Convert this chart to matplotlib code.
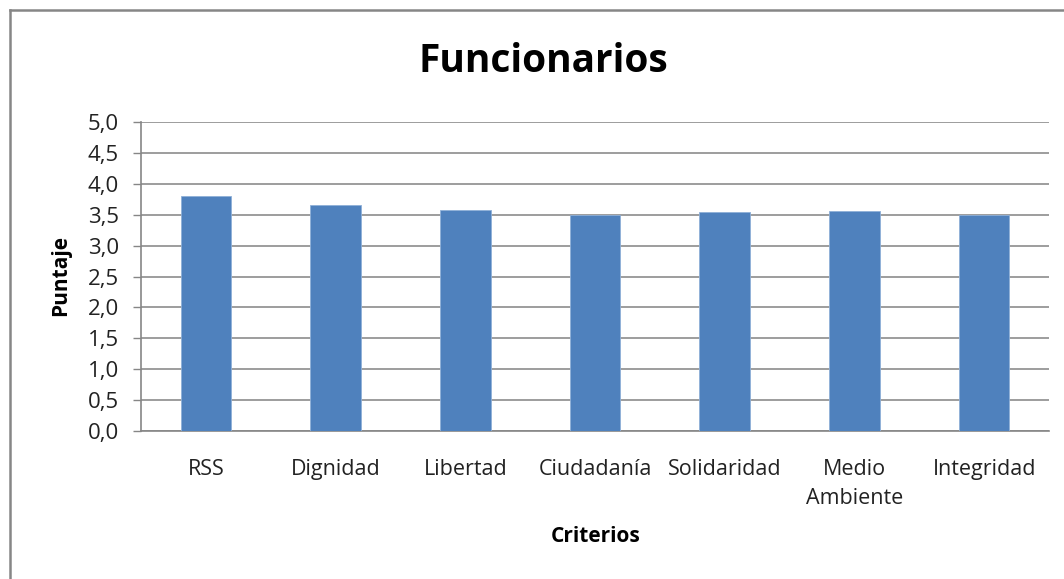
import matplotlib
matplotlib.use("Agg")
import matplotlib.pyplot as plt
from matplotlib.lines import Line2D
import numpy as np

categories = ["RSS", "Dignidad", "Libertad", "Ciudadanía", "Solidaridad", "Medio\nAmbiente", "Integridad"]
values = [3.81, 3.665, 3.58, 3.50, 3.54, 3.56, 3.50]
yticks = [0.0, 0.5, 1.0, 1.5, 2.0, 2.5, 3.0, 3.5, 4.0, 4.5, 5.0]
title = "Funcionarios"
xlabel = "Criterios"
ylabel = "Puntaje"

plt.rcParams['font.family'] = ['Open Sans', 'DejaVu Sans']

W, H = 1064, 579
fig = plt.figure(figsize=(W/100, H/100), dpi=100)
ax = fig.add_axes([141/W, 1-431/H, (1049-141)/W, (431-122)/H])

x = np.arange(len(categories))
ax.bar(x, values, width=0.39, color="#4F81BD", edgecolor="#8FB0D8", linewidth=0.6, zorder=3)
ax.set_xlim(-0.5, len(categories)-0.5)
ax.set_ylim(0, 5)
ax.set_yticks(yticks)
ax.set_yticklabels([f"{v:.1f}".replace(".", ",") for v in yticks], fontsize=16, color="#222222")
ax.set_xticks(x)
ax.set_xticklabels(categories, fontsize=15.5, color="#222222", linespacing=1.5)
ax.tick_params(axis='x', length=0, pad=20)
ax.tick_params(axis='y', length=6, width=1, color="#868686", pad=10)
ax.yaxis.grid(True, color="#8c8c8c", linewidth=1.2, zorder=0)
for s in ["top", "right"]:
    ax.spines[s].set_visible(False)
for s in ["left", "bottom"]:
    ax.spines[s].set_color("#868686")
    ax.spines[s].set_linewidth(1.2)

fig.text(543/W, 1-61/H, title, ha="center", va="center", fontsize=28, fontweight="bold")
fig.text(596/W, 1-537/H, xlabel, ha="center", va="center", fontsize=15, fontweight="bold")
fig.text(61/W, 1-275/H, ylabel, ha="center", va="center", fontsize=15, fontweight="bold", rotation=90)

fig.add_artist(Line2D([9.5/W, 1.0], [1-9.5/H, 1-9.5/H], color="#868686", linewidth=1.8, transform=fig.transFigure))
fig.add_artist(Line2D([9.5/W, 9.5/W], [1-9.5/H, 0], color="#868686", linewidth=1.8, transform=fig.transFigure))

fig.savefig("out.png", dpi=100)
